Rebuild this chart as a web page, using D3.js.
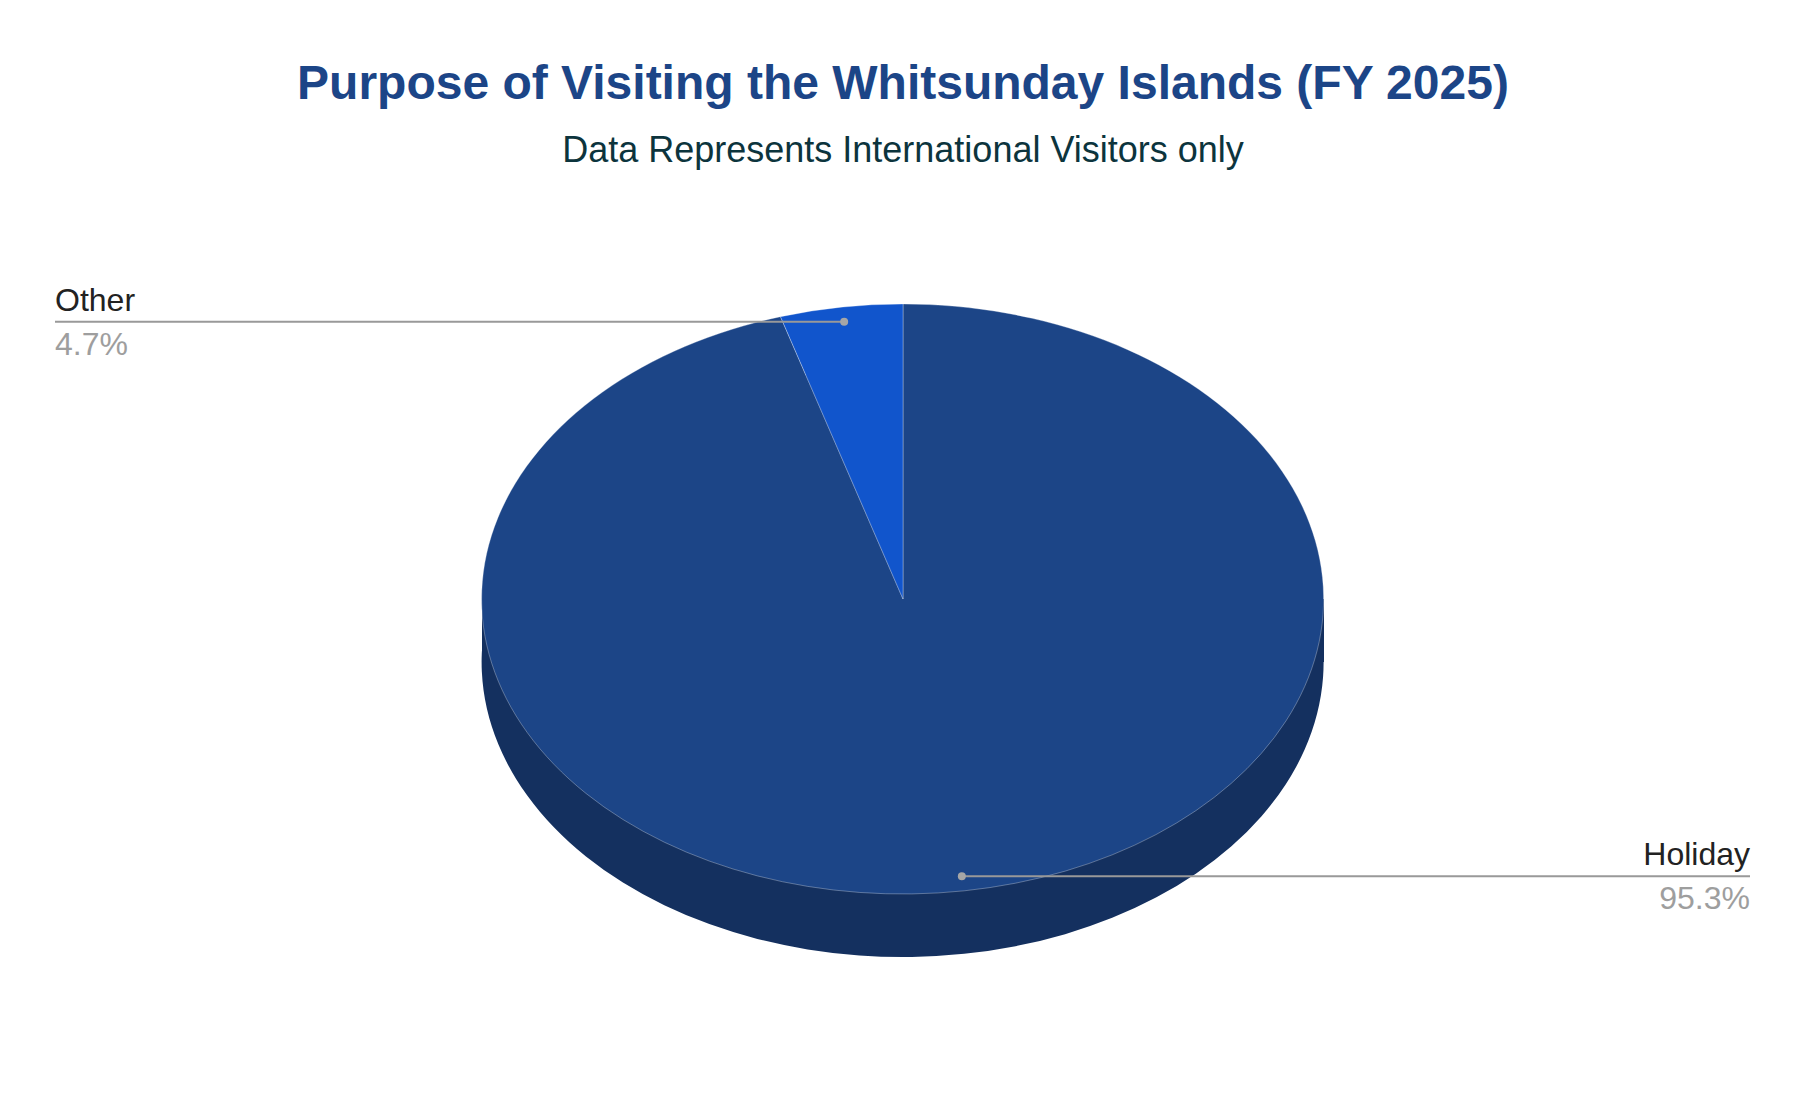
<!DOCTYPE html>
<html>
<head>
<meta charset="utf-8">
<script src="https://cdn.jsdelivr.net/npm/d3@7"></script>
<style>
  html, body { margin: 0; padding: 0; background: #fff; }
  svg { display: block; font-family: "Liberation Sans", Arial, sans-serif; }
</style>
</head>
<body>
<div id="chart"></div>
<script>
// data
const categories = ['Holiday', 'Other'];
const shares = [95.3, 4.7];
const colors = ['#1c4587', '#1155cc'];
const sideColors = ['#14305f', '#0c3b8f'];

const width = 1806;
const height = 1108;

// pie geometry (3D look: flattened ellipse + a wall)
const cx = 903;
const cy = 599;
const rx = 421;
const ry = 295;
const depth = 63;

const svg = d3
  .select('#chart')
  .append('svg')
  .attr('width', width)
  .attr('height', height);

svg
  .append('text')
  .attr('x', width / 2)
  .attr('y', 99)
  .attr('text-anchor', 'middle')
  .attr('font-size', 48)
  .attr('font-weight', 'bold')
  .attr('fill', '#1c4587')
  .text('Purpose of Visiting the Whitsunday Islands (FY 2025)');

svg
  .append('text')
  .attr('x', width / 2)
  .attr('y', 162)
  .attr('text-anchor', 'middle')
  .attr('font-size', 36)
  .attr('fill', '#0c343d')
  .text('Data Represents International Visitors only');

const data = categories.map((name, i) => ({ name, value: shares[i], i }));

const pie = d3
  .pie()
  .sort(null)
  .value(d => d.value);
const arcs = pie(data);

// unit arc, stretched into an ellipse by the transform
const arc = d3.arc().innerRadius(0).outerRadius(1);

// bottom of the pie and the wall between the two faces
const base = svg.append('g');
base
  .append('rect')
  .attr('x', cx - rx)
  .attr('y', cy)
  .attr('width', rx * 2)
  .attr('height', depth)
  .attr('fill', sideColors[0]);
base
  .selectAll('path')
  .data(arcs)
  .join('path')
  .attr('transform', `translate(${cx},${cy + depth}) scale(${rx},${ry})`)
  .attr('fill', d => sideColors[d.data.i])
  .attr('d', arc);

// top face
svg
  .append('g')
  .selectAll('path')
  .data(arcs)
  .join('path')
  .attr('transform', `translate(${cx},${cy}) scale(${rx},${ry})`)
  .attr('fill', d => colors[d.data.i])
  .attr('stroke', '#ffffff')
  .attr('stroke-opacity', 0.3)
  .attr('stroke-width', 1)
  .attr('vector-effect', 'non-scaling-stroke')
  .attr('d', arc);

// leader lines and labels
const labelArc = d3.arc().innerRadius(0.95).outerRadius(0.95);
const labels = svg.append('g');

arcs.forEach(d => {
  const [ux, uy] = labelArc.centroid(d);
  const px = cx + ux * rx;
  const py = cy + uy * ry;
  const left = px < cx;
  const endX = left ? 55 : 1750;

  labels
    .append('line')
    .attr('x1', px)
    .attr('y1', py)
    .attr('x2', endX)
    .attr('y2', py)
    .attr('stroke', '#999999')
    .attr('stroke-width', 2);

  labels
    .append('circle')
    .attr('cx', px)
    .attr('cy', py)
    .attr('r', 4)
    .attr('fill', '#a6a6a6');

  labels
    .append('text')
    .attr('x', endX)
    .attr('y', py - 11)
    .attr('text-anchor', left ? 'start' : 'end')
    .attr('font-size', 32)
    .attr('fill', '#222222')
    .text(d.data.name);

  labels
    .append('text')
    .attr('x', endX)
    .attr('y', py + 33)
    .attr('text-anchor', left ? 'start' : 'end')
    .attr('font-size', 32)
    .attr('fill', '#9e9e9e')
    .text(d.data.value.toFixed(1) + '%');
});
</script>
</body>
</html>
